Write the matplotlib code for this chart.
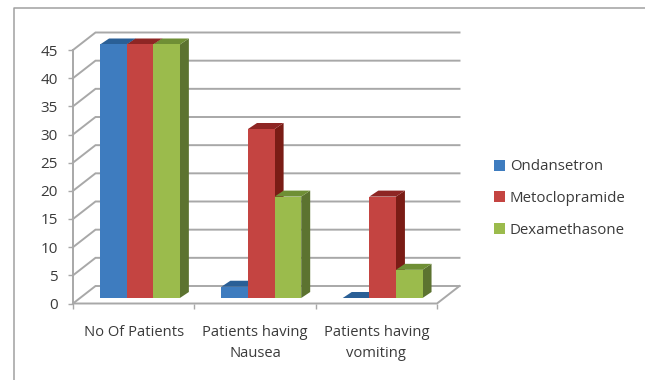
import numpy as np
import matplotlib
matplotlib.use('Agg')
import matplotlib.pyplot as plt
from matplotlib.lines import Line2D
from matplotlib.patches import Patch, Polygon

categories = ['No Of Patients', 'Patients having\nNausea', 'Patients having\nvomiting']
series_names = ['Ondansetron', 'Metoclopramide', 'Dexamethasone']
ondansetron = [45, 2, 0]
metoclopramide = [45, 30, 18]
dexamethasone = [45, 18, 5]
y_ticks = [0, 5, 10, 15, 20, 25, 30, 35, 40, 45]

front_colors = ['#3E7CBF', '#C44441', '#9BBB4C']
top_colors = ['#2A5F96', '#8E2624', '#6F8F35']
side_colors = ['#24507F', '#7A1C15', '#5C7330']
grid_color = '#A8A8A8'
text_color = '#3A3A3A'

plt.rcParams['font.family'] = 'Open Sans'

W, H = 645, 380
fig = plt.figure(figsize=(W / 100, H / 100), dpi=100)
ax = fig.add_axes([73 / W, (H - 303.5) / H, 364 / W, 253.5 / H])
ax.set_xlim(0, 3)
ax.set_ylim(0, 45)
for s in ax.spines.values():
    s.set_visible(False)

# oblique depth of the fake 3D box, in data units
x_unit = 364 / 3
y_unit = 253.5 / 45
wall_dx, wall_dy = 22.5 / x_unit, 17.5 / y_unit
bar_lift_x, bar_lift_y = 6.3 / x_unit, 5.5 / y_unit
bar_dx, bar_dy = 9 / x_unit, 6 / y_unit
bar_w = 26.6 / x_unit

# back wall gridlines and the slanted part on the left wall
for v in y_ticks:
    ax.plot([0, wall_dx, 3 + wall_dx], [v, v + wall_dy, v + wall_dy],
            color=grid_color, lw=1.4, clip_on=False, zorder=1, solid_joinstyle='miter')

# left wall and floor edge
ax.plot([0, 0], [0, 45], color=grid_color, lw=1.4, clip_on=False, zorder=1)
ax.plot([0, 3, 3 + wall_dx], [0, 0, wall_dy], color=grid_color, lw=1.4, clip_on=False, zorder=1)


def draw_bar(x, value, k, z):
    x0 = x + bar_lift_x
    y0 = bar_lift_y
    x1 = x0 + bar_w
    y1 = y0 + value
    ax.bar(x0, value, bar_w, bottom=y0, align='edge', color=front_colors[k], lw=0, zorder=z + 0.2, clip_on=False)
    ax.add_patch(Polygon([(x0, y1), (x1, y1), (x1 + bar_dx, y1 + bar_dy), (x0 + bar_dx, y1 + bar_dy)],
                         fc=top_colors[k], lw=0, zorder=z + 0.1, clip_on=False))
    ax.add_patch(Polygon([(x1, y0), (x1, y1), (x1 + bar_dx, y1 + bar_dy), (x1 + bar_dx, y0 + bar_dy)],
                         fc=side_colors[k], lw=0, zorder=z, clip_on=False))


all_series = [ondansetron, metoclopramide, dexamethasone]
for i in range(len(categories)):
    left = i + 0.5 - 1.5 * bar_w
    for k, values in enumerate(all_series):
        draw_bar(left + k * bar_w, values[i], k, 2 + k + i * 0.01)

# value axis
ax.set_yticks(y_ticks)
ax.set_yticklabels([str(v) for v in y_ticks])
ax.tick_params(axis='y', length=3.6, width=1.0, color=grid_color, pad=7.2,
               labelsize=11, labelcolor=text_color)

# category axis: ticks between groups, labels centred on groups
ax.set_xticks([0, 1, 2, 3])
ax.set_xticklabels([])
ax.set_xticks([0.5, 1.5, 2.5], minor=True)
ax.set_xticklabels(categories, minor=True)
ax.tick_params(axis='x', which='major', length=3.6, width=1.0, color=grid_color)
ax.tick_params(axis='x', which='minor', length=0, pad=15.5, labelsize=10.6, labelcolor=text_color)
for lab in ax.get_xminorticklabels():
    lab.set_linespacing(1.5)

handles = [Patch(fc=c, lw=0) for c in front_colors]
fig.legend(handles, series_names, loc='center left', bbox_to_anchor=(494 / W, (H - 198.5) / H),
           frameon=False, fontsize=10.8, labelspacing=1.1, handlelength=0.73, handleheight=0.73,
           handletextpad=0.33, labelcolor=text_color, borderpad=0, borderaxespad=0)

# chart area border, cut off at the right and bottom
fig.add_artist(Line2D([14 / W, 14 / W, 1], [0, (H - 8) / H, (H - 8) / H], color='#A0A0A0', lw=1.1))

fig.savefig('out.png', dpi=100)
